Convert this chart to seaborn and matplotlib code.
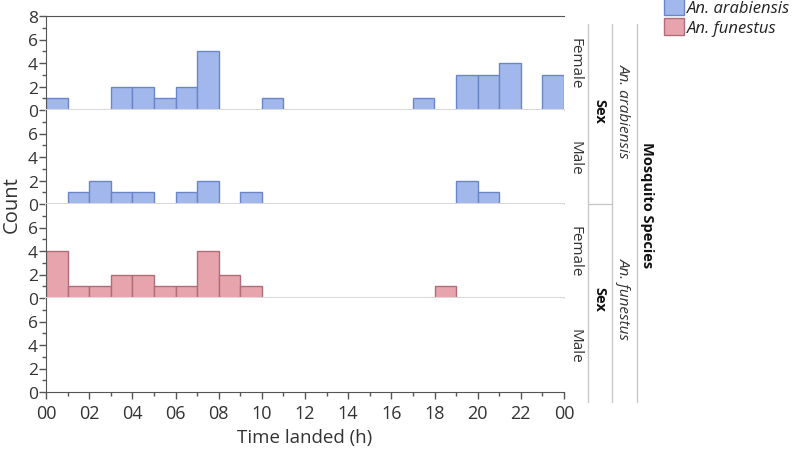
import numpy as np
import pandas as pd
import matplotlib
matplotlib.use('Agg')
import matplotlib.pyplot as plt
import seaborn as sns
from matplotlib.patches import Patch
from matplotlib.lines import Line2D

# data: hour bin start -> count of landings
arab_female_hours = [0, 3, 4, 5, 6, 7, 10, 17, 19, 20, 21, 23]
arab_female_counts = [1, 2, 2, 1, 2, 5, 1, 1, 3, 3, 4, 3]
arab_male_hours = [1, 2, 3, 4, 6, 7, 9, 19, 20]
arab_male_counts = [1, 2, 1, 1, 1, 2, 1, 2, 1]
fun_female_hours = [0, 1, 2, 3, 4, 5, 6, 7, 8, 9, 18]
fun_female_counts = [4, 1, 1, 2, 2, 1, 1, 4, 2, 1, 1]
fun_male_hours = []
fun_male_counts = []

species = ['An. arabiensis', 'An. funestus']
sexes = ['Female', 'Male']
xtick_labels = ['00', '02', '04', '06', '08', '10', '12', '14', '16', '18', '20', '22', '00']

rows = []
for sp, sx, hrs, cnts in [
    ('An. arabiensis', 'Female', arab_female_hours, arab_female_counts),
    ('An. arabiensis', 'Male', arab_male_hours, arab_male_counts),
    ('An. funestus', 'Female', fun_female_hours, fun_female_counts),
    ('An. funestus', 'Male', fun_male_hours, fun_male_counts),
]:
    for h, c in zip(hrs, cnts):
        rows.append({'species': sp, 'sex': sx, 'time': h + 0.5, 'count': c})
df = pd.DataFrame(rows)

fills = {'An. arabiensis': '#a2b8ec', 'An. funestus': '#e8a4ac'}
edges = {'An. arabiensis': '#6b86c8', 'An. funestus': '#b06c78'}

sns.set_style('white')
plt.rcParams['font.family'] = ['Open Sans', 'DejaVu Sans']

W, H = 796, 452
fig = plt.figure(figsize=(W / 100, H / 100), dpi=100)


def fx(x):
    return x / W


def fy(y):
    return 1 - y / H


left, right = 46, 564
top, ph = 17, 94
panels = [(sp, sx) for sp in species for sx in sexes]

for i, (sp, sx) in enumerate(panels):
    y0 = top + i * ph
    ax = fig.add_axes([fx(left), fy(y0 + ph), (right - left) / W, ph / H])
    sub = df[(df['species'] == sp) & (df['sex'] == sx)]
    if len(sub):
        sns.histplot(data=sub, x='time', weights='count', binwidth=1, binrange=(0, 24),
                     color=fills[sp], edgecolor=edges[sp], linewidth=1,
                     alpha=1, ax=ax)
    ax.set_xlim(0, 24)
    ax.set_ylim(0, 8)
    ax.set_xlabel('')
    ax.set_ylabel('')
    ax.set_yticks([0, 2, 4, 6, 8] if i == 0 else [0, 2, 4, 6])
    ax.set_yticks([1, 3, 5, 7], minor=True)
    ax.set_xticks(range(0, 25, 2))
    ax.set_xticks(range(1, 24, 2), minor=True)
    ax.tick_params(axis='y', which='major', direction='out', length=5, width=1,
                   color='#555555', labelsize=12.5, labelcolor='#333333', left=True, pad=1)
    ax.tick_params(axis='y', which='minor', direction='out', length=3, width=1,
                   color='#555555', left=True)
    ax.spines['right'].set_visible(False)
    ax.spines['left'].set_color('#555555')
    ax.spines['top'].set_visible(i == 0)
    ax.spines['top'].set_color('#555555')
    if i < 3:
        ax.spines['bottom'].set_color('#d9d9d9')
        ax.spines['bottom'].set_linewidth(1.5)
        ax.tick_params(axis='x', which='both', bottom=False, labelbottom=False)
    else:
        ax.spines['bottom'].set_color('#555555')
        ax.set_xticklabels(xtick_labels)
        ax.tick_params(axis='x', which='major', direction='out', length=5, width=1,
                       color='#555555', labelsize=13, labelcolor='#333333', bottom=True)
        ax.tick_params(axis='x', which='minor', direction='out', length=3, width=1,
                       color='#555555', bottom=True)
    # row label
    fig.text(fx(575), fy(y0 + ph / 2), sx, rotation=-90, ha='center', va='center',
             fontsize=11, color='#333333')

# nested strip labels on the right
for xx in [588, 612, 637]:
    fig.add_artist(Line2D([fx(xx), fx(xx)], [fy(25), fy(403)], color='#c8c8c8', lw=1))
fig.add_artist(Line2D([fx(588), fx(612)], [fy(205), fy(205)], color='#c8c8c8', lw=1))
for j, sp in enumerate(species):
    yc = top + ph * (2 * j + 1)
    fig.text(fx(599), fy(yc), 'Sex', rotation=-90, ha='center', va='center',
             fontsize=10.5, fontweight='bold', color='#111111')
    fig.text(fx(623), fy(yc), sp, rotation=-90, ha='center', va='center',
             fontsize=11, style='italic', color='#333333')
fig.text(fx(647), fy(205), 'Mosquito Species', rotation=-90, ha='center', va='center',
         fontsize=10.5, fontweight='bold', color='#111111')

fig.text(fx(12), fy(205), 'Count', rotation=90, ha='center', va='center',
         fontsize=14.5, color='#333333')
fig.text(fx(305), fy(438), 'Time landed (h)', ha='center', va='center',
         fontsize=13.5, color='#333333')

handles = [Patch(facecolor=fills[sp], edgecolor=edges[sp], label=sp) for sp in species]
leg = fig.legend(handles=handles, loc='upper left', bbox_to_anchor=(fx(664), fy(-1)),
                 frameon=False, fontsize=12, handlelength=1.2, handleheight=1.2,
                 handletextpad=0.2, labelspacing=0.1, borderaxespad=0, borderpad=0)
for t in leg.get_texts():
    t.set_style('italic')
    t.set_color('#222222')

fig.savefig('out.png', dpi=100)
